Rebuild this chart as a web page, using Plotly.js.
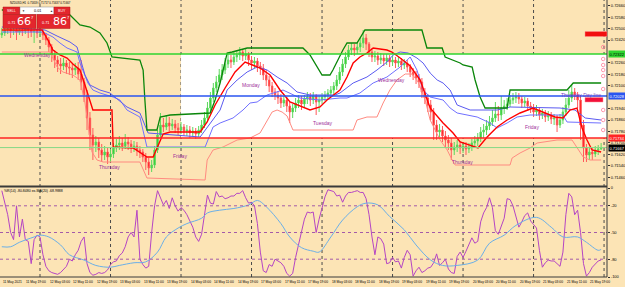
<!DOCTYPE html>
<html><head><meta charset="utf-8">
<script src="https://cdn.plot.ly/plotly-3.0.1.min.js"></script>
<style>html,body{margin:0;padding:0;background:#FCE4B5;}#chart{width:625px;height:287px;}</style>
</head><body><div id="chart"></div>
<script>
// ---------- DATA (NZDUSD H1, 11 May 2021 11:00 .. 21 May 2021 23:00) ----------
const openP = [.72455,.72469,.72490,.72497,.72483,.72490,.72476,.72490,.72483,.72497,
.72490,.72476,.72483,.72469,.72476,.72455,.72420,.72371,.72315,.72280,
.72252,.72238,.72259,.72231,.72224,.72210,.72224,.72182,.72126,.72035,
.71874,.71755,.71685,.71706,.71650,.71615,.71636,.71601,.71622,.71664,
.71685,.71699,.71678,.71706,.71692,.71664,.71678,.71650,.71636,.71601,
.71566,.71524,.71545,.71650,.71755,.71825,.71811,.71839,.71818,.71832,
.71804,.71790,.71811,.71783,.71790,.71769,.71783,.71762,.71790,.71825,
.71874,.71944,.72014,.72084,.72126,.72175,.72210,.72252,.72280,.72266,
.72301,.72315,.72336,.72308,.72322,.72280,.72259,.72273,.72238,.72224,
.72175,.72140,.72098,.72056,.72035,.72014,.71979,.72000,.71958,.71916,
.71944,.71979,.72000,.71972,.72007,.72021,.72000,.72028,.71986,.72000,
.72021,.72035,.72049,.72070,.72098,.72140,.72196,.72252,.72301,.72350,
.72364,.72350,.72371,.72399,.72434,.72392,.72336,.72301,.72308,.72280,
.72294,.72273,.72294,.72266,.72280,.72259,.72273,.72245,.72259,.72231,
.72196,.72175,.72154,.72126,.72056,.72014,.71965,.71916,.71825,.71776,
.71790,.71748,.71720,.71699,.71650,.71671,.71685,.71664,.71678,.71657,
.71671,.71699,.71713,.71734,.71776,.71790,.71818,.71846,.71874,.71902,
.71895,.71944,.71958,.71972,.72000,.72014,.72021,.72007,.71979,.71993,
.71958,.71944,.71916,.71930,.71895,.71909,.71881,.71895,.71867,.71874,
.71825,.71860,.71916,.71965,.72014,.72056,.72035,.72000,.71825,.71664,
.71615,.71636,.71622,.71650,.71657];
const highP = [.72504,.72518,.72525,.72511,.72518,.72511,.72518,.72511,.72525,.72518,
.72504,.72511,.72504,.72511,.72497,.72469,.72441,.72392,.72350,.72308,
.72294,.72294,.72280,.72266,.72252,.72259,.72266,.72280,.72154,.72070,
.71916,.71804,.71748,.71734,.71692,.71678,.71664,.71657,.71699,.71727,
.71748,.71734,.71762,.71741,.71720,.71713,.71706,.71678,.71657,.71629,
.71594,.71580,.71678,.71790,.71909,.71874,.71895,.71881,.71867,.71860,
.71839,.71846,.71832,.71825,.71818,.71811,.71804,.71818,.71860,.71916,
.71986,.72056,.72119,.72168,.72217,.72252,.72294,.72322,.72315,.72336,
.72350,.72371,.72357,.72357,.72336,.72308,.72301,.72294,.72266,.72252,
.72210,.72168,.72126,.72084,.72063,.72042,.72028,.72021,.71986,.71972,
.72014,.72035,.72028,.72035,.72056,.72049,.72056,.72042,.72028,.72049,
.72063,.72077,.72098,.72126,.72175,.72231,.72287,.72336,.72385,.72399,
.72392,.72406,.72434,.72490,.72462,.72406,.72364,.72343,.72336,.72329,
.72322,.72322,.72315,.72308,.72301,.72301,.72294,.72287,.72280,.72252,
.72224,.72203,.72182,.72154,.72084,.72042,.72000,.71944,.71860,.71832,
.71818,.71783,.71755,.71734,.71706,.71720,.71713,.71706,.71706,.71699,
.71727,.71748,.71769,.71811,.71832,.71860,.71888,.71930,.71986,.71958,
.72028,.72000,.72014,.72035,.72049,.72056,.72049,.72028,.72021,.72014,
.71986,.71972,.71965,.71951,.71937,.71930,.71923,.71916,.71902,.71895,
.71902,.71951,.72014,.72070,.72105,.72084,.72056,.72035,.71860,.71692,
.71671,.71664,.71678,.71685,.71699];
const lowP = [.72434,.72448,.72462,.72434,.72455,.72420,.72455,.72448,.72462,.72434,
.72441,.72399,.72434,.72441,.72420,.72385,.72336,.72266,.72224,.72196,
.72182,.72210,.72182,.72175,.72154,.72175,.72140,.72070,.71986,.71790,
.71650,.71580,.71636,.71594,.71566,.71580,.71552,.71566,.71594,.71636,
.71650,.71643,.71657,.71650,.71629,.71636,.71608,.71594,.71566,.71510,
.71475,.71496,.71524,.71629,.71734,.71776,.71790,.71783,.71790,.71769,
.71755,.71762,.71748,.71748,.71734,.71741,.71727,.71741,.71769,.71804,
.71846,.71916,.71986,.72056,.72098,.72140,.72182,.72224,.72224,.72245,
.72266,.72280,.72273,.72280,.72238,.72210,.72224,.72196,.72175,.72140,
.72098,.72056,.72021,.72000,.71972,.71944,.71951,.71916,.71839,.71874,
.71916,.71944,.71930,.71944,.71972,.71958,.71972,.71895,.71916,.71972,
.71993,.72007,.72021,.72042,.72070,.72112,.72168,.72224,.72280,.72315,
.72308,.72322,.72336,.72364,.72350,.72301,.72266,.72266,.72245,.72252,
.72238,.72245,.72231,.72238,.72224,.72231,.72210,.72217,.72196,.72161,
.72140,.72112,.72084,.72014,.71972,.71916,.71860,.71720,.71720,.71741,
.71706,.71671,.71650,.71580,.71615,.71636,.71622,.71629,.71615,.71629,
.71643,.71664,.71678,.71706,.71734,.71755,.71790,.71818,.71846,.71853,
.71860,.71902,.71930,.71951,.71972,.71979,.71972,.71944,.71951,.71923,
.71909,.71881,.71888,.71860,.71867,.71846,.71853,.71832,.71825,.71776,
.71804,.71832,.71888,.71944,.71986,.72000,.71944,.71720,.71566,.71566,
.71580,.71580,.71601,.71615,.71650];
const closeP = [.72469,.72490,.72497,.72483,.72490,.72476,.72490,.72483,.72497,.72490,
.72476,.72483,.72469,.72476,.72455,.72420,.72371,.72315,.72280,.72252,
.72238,.72259,.72231,.72224,.72210,.72224,.72182,.72126,.72035,.71874,
.71755,.71685,.71706,.71650,.71615,.71636,.71601,.71622,.71664,.71685,
.71699,.71678,.71706,.71692,.71664,.71678,.71650,.71636,.71601,.71566,
.71524,.71545,.71650,.71755,.71825,.71811,.71839,.71818,.71832,.71804,
.71790,.71811,.71783,.71790,.71769,.71783,.71762,.71790,.71825,.71874,
.71944,.72014,.72084,.72126,.72175,.72210,.72252,.72280,.72266,.72301,
.72315,.72336,.72308,.72322,.72280,.72259,.72273,.72238,.72224,.72175,
.72140,.72098,.72056,.72035,.72014,.71979,.72000,.71958,.71916,.71944,
.71979,.72000,.71972,.72007,.72021,.72000,.72028,.71986,.72000,.72021,
.72035,.72049,.72070,.72098,.72140,.72196,.72252,.72301,.72350,.72364,
.72350,.72371,.72399,.72434,.72392,.72336,.72301,.72308,.72280,.72294,
.72273,.72294,.72266,.72280,.72259,.72273,.72245,.72259,.72231,.72196,
.72175,.72154,.72126,.72056,.72014,.71965,.71916,.71825,.71776,.71790,
.71748,.71720,.71699,.71650,.71671,.71685,.71664,.71678,.71657,.71671,
.71699,.71713,.71734,.71776,.71790,.71818,.71846,.71874,.71902,.71895,
.71944,.71958,.71972,.72000,.72014,.72021,.72007,.71979,.71993,.71958,
.71944,.71916,.71930,.71895,.71909,.71881,.71895,.71867,.71874,.71825,
.71860,.71916,.71965,.72014,.72056,.72035,.72000,.71825,.71664,.71615,
.71636,.71622,.71650,.71657,.71667];

// channel / indicator lines (bar position, price)
const greenBar = [0,21.5,23.2,26.6,30.0,33.4,35.8,37.5,47.0,48.1,48.7,49.4,52.8,53.9,57.3,70.9,72.6,74.3,76.7,78.4,83.5,102.5,104.9,107.3,109.0,111.7,112.7,116.1,117.5,120.9,123.0,123.6,143.0,144.7,149.9,150.9,156.0,157.0,160.1,161.1,162.8,164.5,172.0,173.0,192.4,194.1,194.5,204];
const greenVal = [.72630,.72630,.72595,.72525,.72511,.72469,.72399,.72301,.72280,.72210,.72000,.71790,.71790,.71881,.71895,.71909,.72000,.72119,.72329,.72336,.72364,.72364,.72315,.72231,.72175,.72175,.72210,.72350,.72399,.72399,.72476,.72490,.72490,.72364,.72364,.72301,.72259,.72245,.72231,.72140,.72021,.71944,.71944,.72070,.72070,.72105,.72119,.72119];
const redBar = [0,13.7,15.7,17.4,19.8,22.2,24.2,26.6,28.3,30.0,31.0,37.5,37.9,44.7,47.0,49.4,51.5,52.8,54.9,57.3,67.5,69.9,72.6,76.0,79.4,82.8,84.5,87.9,91.3,94.7,98.1,101.5,104.9,108.3,110.7,115.1,117.5,119.6,121.9,124.3,126.4,131.1,132.8,135.6,139.0,142.4,145.8,150.2,153.6,156.0,159.4,162.1,165.2,168.6,172.0,176.4,180.8,184.2,188.3,191.0,193.4,195.8,197.5,199.2,200.9,204];
const redVal = [.72490,.72490,.72420,.72350,.72315,.72294,.72252,.72210,.72105,.72000,.71930,.71930,.71671,.71664,.71636,.71601,.71601,.71664,.71762,.71776,.71776,.71846,.71965,.72084,.72196,.72266,.72252,.72224,.72175,.72070,.71986,.71958,.71930,.71951,.72000,.72070,.72161,.72259,.72301,.72329,.72364,.72350,.72336,.72294,.72238,.72140,.71944,.71839,.71769,.71706,.71685,.71664,.71741,.71811,.71860,.71909,.71944,.71916,.71881,.71874,.71930,.71944,.71804,.71720,.71650,.71636];
const lowBandBar = [0,16.4,18.8,20.8,24.2,26.6,28.3,29.3,30.7,32.4,34.5,47.0,49.4,69.2,69.9,71.9,75.3,80.1,84.5,87.9,90.3,92.0,93.7,95.4,97.1,98.1,99.1,119.6,120.9,124.3,127.7,129.8,132.1,134.5,137.3,139.6,141.7,144.1,145.8,149.2,151.6,153.3,154.3,173.0,173.7,176.4,179.8,182.2,189.0,194.1,196.2,197.9,200.2,204];
const lowBandVal = [.72336,.72336,.72231,.72196,.72175,.72140,.71979,.71839,.71636,.71580,.71566,.71566,.71454,.71440,.71580,.71650,.71671,.71720,.71734,.71769,.71860,.71916,.71930,.71916,.71888,.71839,.71790,.71790,.71860,.71881,.71881,.71979,.72070,.72140,.72182,.72182,.72126,.72000,.71860,.71720,.71650,.71580,.71545,.71545,.71594,.71629,.71664,.71699,.71720,.71720,.71650,.71601,.71580,.71580];
const blueFastBar = [0,14.7,18.8,23.2,25.6,28.3,30.0,33.4,36.8,42.6,47.0,49.8,67.5,70.9,74.3,76.7,80.1,83.5,86.9,90.3,93.7,97.1,100.5,104.9,113.4,115.1,119.6,124.3,127.7,131.1,133.2,135.6,138.3,141.3,143.4,145.8,148.2,150.2,152.6,155.0,159.4,168.6,173.0,190.0,195.1,198.6,204];
const blueFastVal = [.72511,.72490,.72448,.72406,.72371,.72175,.72105,.72070,.72049,.71951,.71909,.71769,.71741,.71839,.71930,.72070,.72140,.72196,.72231,.72210,.72161,.72119,.72056,.72035,.72035,.72049,.72119,.72161,.72210,.72266,.72315,.72336,.72329,.72294,.72259,.72189,.72140,.72119,.72070,.71965,.71930,.71930,.71951,.71944,.71930,.71874,.71860];
const blueSlowBar = [0,14.0,17.4,19.8,22.2,25.6,26.6,27.6,29.3,31.0,33.4,37.9,40.2,42.6,47.0,49.4,69.2,71.9,74.3,78.7,82.1,84.5,86.9,90.3,95.7,101.5,108.3,115.1,117.5,121.9,126.4,131.1,135.6,139.0,141.3,143.4,145.8,150.2,152.6,155.0,161.8,166.2,168.6,172.0,175.4,179.8,191.0,192.4,204];
const blueSlowVal = [.72476,.72476,.72441,.72399,.72364,.72336,.72259,.72210,.72119,.72070,.72049,.72021,.72000,.71930,.71881,.71671,.71671,.71811,.71839,.71874,.71930,.71979,.71986,.72035,.72070,.72014,.72000,.72014,.72014,.72049,.72119,.72161,.72231,.72301,.72210,.72070,.72021,.72000,.71944,.71909,.71881,.71839,.71804,.71839,.71881,.71895,.71895,.71846,.71839];

// horizontal levels
const levelGreen = 0.72322, levelBlue = 0.72028, levelRed = 0.71734, bidPrice = 0.71667;
const orderMarkPrice = [.72371,.72287,.72245,.72210,.72168,.72077,.71930,.71860,.71790];

// day labels
const dayNames = ['Wednesday','Thursday','Friday','Monday','Tuesday','Wednesday','Thursday','Friday','Thursday Day line'];
const dayLabelBar = [12.3,36.5,60.7,84.8,109,132.5,156.7,180.5,197.2];
const dayLabelPrice = [.72315,.71531,.71608,.72105,.71839,.72140,.71566,.71811,.72035];

// Williams %R(14) and its MA(20)
const wrVal = [-3,-18,-30,-50,-58,-20,-55,-35,-58,-60,
-85,-58,-53,-55,-75,-88,-93,-95,-96,-97,
-95,-92,-88,-80,-82,-75,-70,-60,-55,-85,
-95,-98,-97,-95,-96,-95,-92,-86,-83,-82,
-76,-73,-66,-55,-50,-55,-25,-80,-86,-90,
-88,-50,-20,-3,-12,-19,-14,-23,-11,-20,
-26,-22,-25,-30,-37,-44,-55,-60,-52,-30,
-8,-17,-18,-4,-10,-9,-12,-11,-9,-9,
-6,-6,-3,-11,-17,-16,-20,-40,-72,-93,
-95,-86,-88,-80,-82,-84,-88,-96,-99,-96,
-78,-64,-48,-35,-27,-28,-27,-50,-35,-21,
-10,-2,-3,-4,-9,-8,-16,-9,-5,-5,
-4,-3,-5,-5,-12,-30,-55,-75,-55,-57,
-63,-85,-84,-78,-83,-82,-90,-78,-70,-75,
-99,-93,-89,-95,-93,-90,-89,-84,-74,-87,
-84,-80,-91,-95,-96,-77,-72,-78,-71,-63,
-56,-62,-60,-38,-28,-22,-11,-22,-48,-52,
-44,-34,-12,-13,-20,-31,-44,-38,-31,-28,
-37,-41,-45,-70,-89,-84,-81,-82,-82,-85,
-88,-72,-30,-6,-10,-30,-25,-50,-85,-99,
-95,-89,-86,-82,-80.85];
const maBar = [0,3,6,11,13,16,20,23,28,32,37,40,45,49,53,56,60,63,68,70,74,79,84,87,90,95,98,102,106,108,112,116,121,124,128,132,137,141,146,150,155,162,166,171,175,182,187,191,196,199,203,204];
const maVal = [-66,-66,-61,-55,-53,-55,-64,-75,-81,-87,-89,-87,-84,-83,-72,-55,-45,-40,-34,-28,-25,-23,-19,-14,-21,-40,-55,-67,-71,-72,-55,-36,-21,-17,-19,-32,-47,-64,-81,-87,-87,-81,-62,-53,-42,-33,-44,-55,-55,-61,-70,-69];

// axes (tick labels hidden under the level tags are left out)
const priceTicks = [0.72660,0.72580,0.72500,0.72420,0.72260,0.72180,0.72100,0.71940,0.71860,0.71780,0.71700,0.71620,0.71540,0.71460];
const wrTicks = [0,-20,-50,-80,-100];
const dayStartBars = [13,37,61,85,109,133,157,181,205];
const timeLabels = ['11 May 2021','11 May 19:00','12 May 03:00','12 May 11:00','12 May 19:00','13 May 03:00','13 May 11:00','13 May 19:00','14 May 03:00','14 May 11:00','14 May 19:00','17 May 03:00','17 May 11:00','17 May 19:00','18 May 03:00','18 May 11:00','18 May 19:00','19 May 03:00','19 May 11:00','19 May 19:00','20 May 03:00','20 May 11:00','20 May 19:00','21 May 03:00','21 May 11:00','21 May 19:00'];
const timeLabelBars = [0,8,16,24,32,40,48,56,64,72,80,88,96,104,112,120,128,136,144,152,160,168,176,184,192,200];

// ---------- CHART ----------
const W = 607, H = 277;
const PX = x => x / W, PY = y => 1 - y / H;
const bars = closeP.map((_, i) => i);
const FONT = 'Liberation Sans, Arial, sans-serif';
const BG = '#FCE4B5';

const line = (x, y, color, width, yaxis) => ({type:'scatter', mode:'lines', x, y, yaxis: yaxis || 'y',
  line:{color, width}, hoverinfo:'skip', showlegend:false});

const traces = [
  {type:'candlestick', x:bars, open:openP, high:highP, low:lowP, close:closeP,
   increasing:{line:{color:'#5ED85E', width:1}, fillcolor:'#1ECB1E'},
   decreasing:{line:{color:'#FF5A5A', width:1}, fillcolor:'#FF0000'},
   whiskerwidth:0, hoverinfo:'skip', showlegend:false},
  line(lowBandBar, lowBandVal, '#FF8A80', 1),
  line(blueSlowBar, blueSlowVal, '#7070FF', 1),
  line(blueFastBar, blueFastVal, '#5A5AF0', 1),
  line(redBar, redVal, '#FF0000', 1.4),
  line(greenBar, greenVal, '#0A860A', 1.3),
  {type:'scatter', mode:'markers', x:orderMarkPrice.map(() => 204.7), y:orderMarkPrice,
   marker:{symbol:'circle-open', size:3.5, color:'#FF7F9A', line:{width:0.8}}, hoverinfo:'skip', showlegend:false},
  line(bars, wrVal, '#B544C4', 1, 'y2'),
  {type:'scatter', mode:'lines', x:maBar, y:maVal, yaxis:'y2', line:{color:'#6AAFE8', width:1, shape:'spline'}, hoverinfo:'skip', showlegend:false}
];

const shapes = [];
shapes.push({type:'rect', xref:'x', yref:'y', x0:61, x1:206.5, y0:levelRed, y1:levelGreen, fillcolor:'#FFFFFF', line:{width:0}, layer:'below'});
dayStartBars.forEach(b => shapes.push({type:'line', xref:'x', yref:'paper', x0:b, x1:b, y0:0, y1:1, line:{color:'#4A4A4A', width:1, dash:'dot'}, layer:'below'}));
shapes.push({type:'line', xref:'paper', yref:'y', x0:0, x1:1, y0:levelGreen, y1:levelGreen, line:{color:'#2FD42F', width:1.5}});
shapes.push({type:'line', xref:'paper', yref:'y', x0:0, x1:1, y0:levelBlue, y1:levelBlue, line:{color:'#2A55F0', width:1.5}});
shapes.push({type:'line', xref:'paper', yref:'y', x0:0, x1:1, y0:levelRed, y1:levelRed, line:{color:'#FF2424', width:1.5}});
shapes.push({type:'line', xref:'paper', yref:'y', x0:0, x1:1, y0:bidPrice, y1:bidPrice, line:{color:'#86D886', width:1}});
[-20,-50,-80].forEach(v => shapes.push({type:'line', xref:'paper', yref:'y2', x0:0, x1:1, y0:v, y1:v, line:{color:'#A45AA8', width:1, dash:'dot'}}));
shapes.push({type:'line', xref:'paper', yref:'paper', x0:0, x1:1, y0:PY(186.5), y1:PY(186.5), line:{color:'#3A3A3A', width:2}});
shapes.push({type:'line', xref:'paper', yref:'paper', x0:1, x1:1, y0:0, y1:1, line:{color:'#3A3A3A', width:1}});
shapes.push({type:'line', xref:'paper', yref:'paper', x0:0, x1:1, y0:0, y1:0, line:{color:'#3A3A3A', width:1}});
shapes.push({type:'rect', xref:'paper', yref:'paper', x0:PX(585), x1:PX(607), y0:PY(36.5), y1:PY(31.5), fillcolor:'#F20F0F', line:{color:'#FF9090', width:0.5}});
shapes.push({type:'rect', xref:'paper', yref:'paper', x0:PX(585), x1:PX(603), y0:PY(102), y1:PY(97.5), fillcolor:'#F2103A', line:{color:'#FF9090', width:0.5}});
const red = '#E3262D';
shapes.push({type:'rect', xref:'paper', yref:'paper', x0:PX(3), x1:PX(20), y0:PY(14.5), y1:PY(7), fillcolor:red, line:{color:'#B01818', width:0.5}});
shapes.push({type:'rect', xref:'paper', yref:'paper', x0:PX(20), x1:PX(54), y0:PY(14.5), y1:PY(7), fillcolor:'#FFFFFF', line:{color:'#888', width:0.5}});
shapes.push({type:'rect', xref:'paper', yref:'paper', x0:PX(54), x1:PX(70), y0:PY(14.5), y1:PY(7), fillcolor:red, line:{color:'#B01818', width:0.5}});
shapes.push({type:'rect', xref:'paper', yref:'paper', x0:PX(3), x1:PX(36), y0:PY(28.5), y1:PY(14.5), fillcolor:red, line:{color:'#B01818', width:0.5}});
shapes.push({type:'rect', xref:'paper', yref:'paper', x0:PX(37), x1:PX(70), y0:PY(28.5), y1:PY(14.5), fillcolor:red, line:{color:'#B01818', width:0.5}});

const ann = [];
const txt = (x, y, text, size, color, opts) => Object.assign({xref:'paper', yref:'paper', x:PX(x), y:PY(y), text, showarrow:false,
  font:{family:FONT, size, color}, xanchor:'center', yanchor:'middle'}, opts || {});
ann.push(txt(8, 2.6, 'NZDUSD,H1  0.71659 0.71717 0.71637 0.71667', 2.8, '#000', {xanchor:'left'}));
ann.push(txt(2, 190.8, '%R(14) -80.8480 ex-MA(20) -68.9888', 3.5, '#000', {xanchor:'left'}));
ann.push(txt(11.5, 10.8, 'SELL', 3.6, '#FFF'));
ann.push(txt(23.5, 10.8, '▼', 3, '#333'));
ann.push(txt(37, 10.8, '0.01', 3.8, '#000'));
ann.push(txt(51, 10.8, '▲', 3, '#333'));
ann.push(txt(62, 10.8, 'BUY', 3.6, '#FFF'));
ann.push(txt(11, 23.5, '0.71', 3.8, '#FFF'));
ann.push(txt(24, 21.3, '66', 11, '#FFF', {font:{family:'DejaVu Sans', size:11, color:'#FFF'}}));
ann.push(txt(32.5, 17.3, '7', 4, '#FFF'));
ann.push(txt(45, 23.5, '0.71', 3.8, '#FFF'));
ann.push(txt(59.5, 21.3, '86', 11, '#FFF', {font:{family:'DejaVu Sans', size:11, color:'#FFF'}}));
ann.push(txt(68, 17.3, '7', 4, '#FFF'));
dayNames.forEach((d, i) => ann.push({xref:'x', yref:'y', x:dayLabelBar[i], y:dayLabelPrice[i], text:d, showarrow:false,
  font:{family:FONT, size:5, color: i === 8 ? '#7A3FC0' : '#A0309A'}, xanchor:'center', yanchor:'middle'}));
timeLabels.forEach((t, i) => ann.push({xref:'x', yref:'paper', x:timeLabelBars[i], y:PY(281.5), text:t, showarrow:false,
  font:{family:FONT, size:3.3, color:'#000'}, xanchor:'left', yanchor:'middle', xshift:-1}));
const tag = (price, text, bg, fg) => ({xref:'paper', yref:'y', x:PX(608), y:price, text, showarrow:false, xanchor:'left', yanchor:'middle',
  font:{family:FONT, size:4, color:fg}, bgcolor:bg, borderpad:0.5});
ann.push(tag(levelGreen, '0.72322', '#2FD42F', '#000'));
ann.push(tag(levelBlue, '0.72028', '#2A55F0', '#FFF'));
ann.push(tag(levelRed, '0.71734', '#FF2424', '#FFF'));
ann.push(tag(bidPrice, '0.71667', '#000', '#FFF'));

const layout = {
  width:625, height:287, margin:{l:0, r:18, t:0, b:10},
  paper_bgcolor:BG, plot_bgcolor:BG, showlegend:false,
  xaxis:{range:[-0.62, 206.0], showgrid:false, zeroline:false, showticklabels:false, ticks:'', rangeslider:{visible:false}, fixedrange:true},
  yaxis:{domain:[PY(185.5), 1], range:[0.714015, 0.7270], side:'right', showgrid:false, zeroline:false,
    tickvals:priceTicks, ticktext:priceTicks.map(v => v.toFixed(5)), ticks:'outside', ticklen:2, tickcolor:'#333',
    tickfont:{family:FONT, size:4, color:'#000'}},
  yaxis2:{domain:[0, PY(188)], range:[-100, 0], side:'right', showgrid:false, zeroline:false,
    tickvals:wrTicks, ticktext:wrTicks.map(String), ticks:'outside', ticklen:2, tickcolor:'#333',
    tickfont:{family:FONT, size:4, color:'#000'}},
  shapes, annotations:ann
};
Plotly.newPlot('chart', traces, layout, {staticPlot:true, displayModeBar:false});
</script>
</body></html>
